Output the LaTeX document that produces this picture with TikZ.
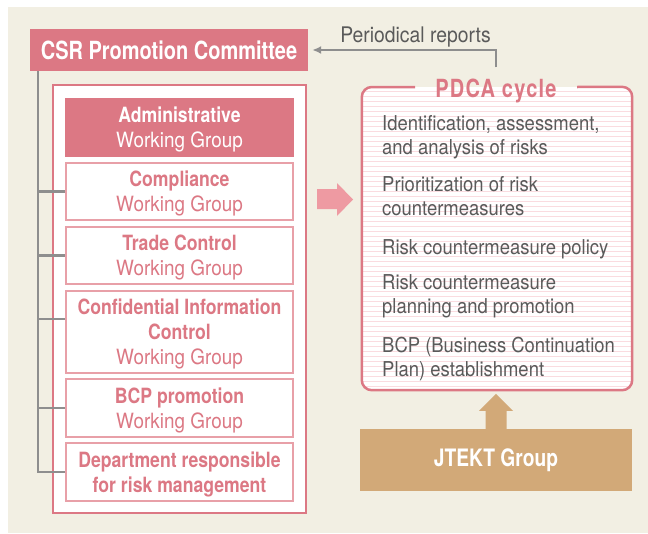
\documentclass[tikz,border=0pt]{standalone}
\usepackage{fontspec}
\setmainfont{TeX Gyre Heros}[FakeStretch=0.9]
\newfontfamily\condbold{TeX Gyre Heros}[FakeStretch=0.84]
\newfontfamily\headbold{TeX Gyre Heros}[FakeStretch=0.8]
\newfontfamily\cyclebold{TeX Gyre Heros}[FakeStretch=0.8,LetterSpace=5]
\usetikzlibrary{arrows.meta}

\definecolor{paper}{HTML}{F2EFE3}
\definecolor{rosered}{HTML}{DC7884}
\definecolor{roseline}{HTML}{E8A0A8}
\definecolor{rosearrow}{HTML}{EE9AA2}
\definecolor{stripepink}{HTML}{FADCE0}
\definecolor{linegray}{HTML}{8E8E8E}
\definecolor{textgray}{HTML}{5A5A5A}
\definecolor{jtekttan}{HTML}{D2A978}

\newcommand{\bline}[1]{{\condbold\bfseries #1}}

\begin{document}
\begin{tikzpicture}[x=1pt,y=-1pt,
  wg/.style={draw=roseline,line width=1.2pt,fill=white,text=rosered,
    minimum width=227,minimum height=57,inner sep=0pt,align=center,
    text depth=0pt,font=\fontsize{21}{25}\selectfont},
  head/.style={fill=rosered,text=white,inner sep=0pt,
    font=\headbold\bfseries\fontsize{25}{30}\selectfont},
  item/.style={anchor=base west,align=left,inner sep=0pt,text=textgray,
    font=\fontsize{20.5}{23.5}\selectfont},
  trunk/.style={draw=linegray,line width=2.2pt}]

  \useasboundingbox (0,0) rectangle (648,533);
  \fill[white] (0,0) rectangle (648,533);
  \fill[paper] (8,7) rectangle (648,533);

  % committee and its working groups
  \node[head,minimum width=278,minimum height=42] (CSR) at (169,50) {CSR Promotion Committee};
  \node[draw=rosered,line width=2.5pt,fill=white,minimum width=253,minimum height=428] (WG) at (179.5,299) {};
  \node[wg,fill=rosered,draw=rosered,text=white] (W1) at (179.5,127.5) {\bline{Administrative}\\Working Group};
  \node[wg] (W2) at (179.5,191.5) {\bline{Compliance}\\Working Group};
  \node[wg] (W3) at (179.5,255.5) {\bline{Trade Control}\\Working Group};
  \node[wg,minimum height=82] (W4) at (179.5,332) {\bline{Confidential Information}\\\bline{Control}\\Working Group};
  \node[wg,minimum height=58] (W5) at (179.5,408) {\bline{BCP promotion}\\Working Group};
  \node[wg,minimum height=58] (W6) at (179.5,472) {\bline{Department responsible}\\\bline{for risk management}};

  \coordinate (T) at ([xshift=8pt]CSR.south west);
  \coordinate (W4b) at ([yshift=13pt]W4.west);
  \draw[trunk] (T) |- (W6.west);
  \foreach \b in {W2,W3,W4b,W5}
    \draw[trunk] (T |- \b) -- (\b);

  \fill[rosearrow] (317,189) -- (337,189) -- (337,183) -- (353,199.5)
    -- (337,216) -- (337,209) -- (317,209) -- cycle;

  % PDCA box with ruled paper
  \node[fill=white,rounded corners=10pt,minimum width=270,minimum height=303,inner sep=0pt] (PDCA) at (497,238.5) {};
  \begin{scope}
    \clip[rounded corners=10pt] (PDCA.north west) rectangle (PDCA.south east);
    \foreach \y in {91,96,...,386}
      \draw[stripepink,line width=1pt] (PDCA.west |- 0,\y) -- (PDCA.east |- 0,\y);
  \end{scope}
  \node[anchor=base,inner sep=0pt,text=rosered,
    font=\cyclebold\bfseries\fontsize{25}{30}\selectfont] (cycle) at (496,97) {PDCA cycle};
  \coordinate (gapL) at (415,87);
  \coordinate (gapR) at (577,87);
  \draw[rosered,line width=2.5pt,rounded corners=10pt] (gapL) -| (PDCA.south west)
    -| (PDCA.north east) -- (gapR);

  % base of a two-line item is its last line
  \node[item] (P1) at (382,154) {Identification, assessment,\\and analysis of risks};
  \node[item] (P2) at (382,215) {Prioritization of risk\\countermeasures};
  \node[item] (P3) at (382,254) {Risk countermeasure policy};
  \node[item] (P4) at (382,313) {Risk countermeasure\\planning and promotion};
  \node[item] (P5) at (382,376) {BCP (Business Continuation\\Plan) establishment};

  \node[anchor=base,inner sep=0pt,text=textgray,font=\fontsize{21.5}{26}\selectfont] (PR) at (415.5,42) {Periodical reports};
  \draw[linegray,line width=2.2pt,-{Latex[length=9pt,width=8pt]},shorten >=4pt]
    ([yshift=11pt]cycle.north) |- (CSR.east);

  \node[head,fill=jtekttan,minimum width=272,minimum height=62,
    font=\headbold\bfseries\fontsize{24}{28}\selectfont] (JG) at (496,460) {JTEKT Group};
  \fill[jtekttan] ([xshift=-10.5pt]JG.north) -- ++(0,-18) -- ++(-6.5,0) -- ++(17,-17)
    -- ++(17,17) -- ++(-6.5,0) -- ++(0,18) -- cycle;
\end{tikzpicture}
\end{document}
